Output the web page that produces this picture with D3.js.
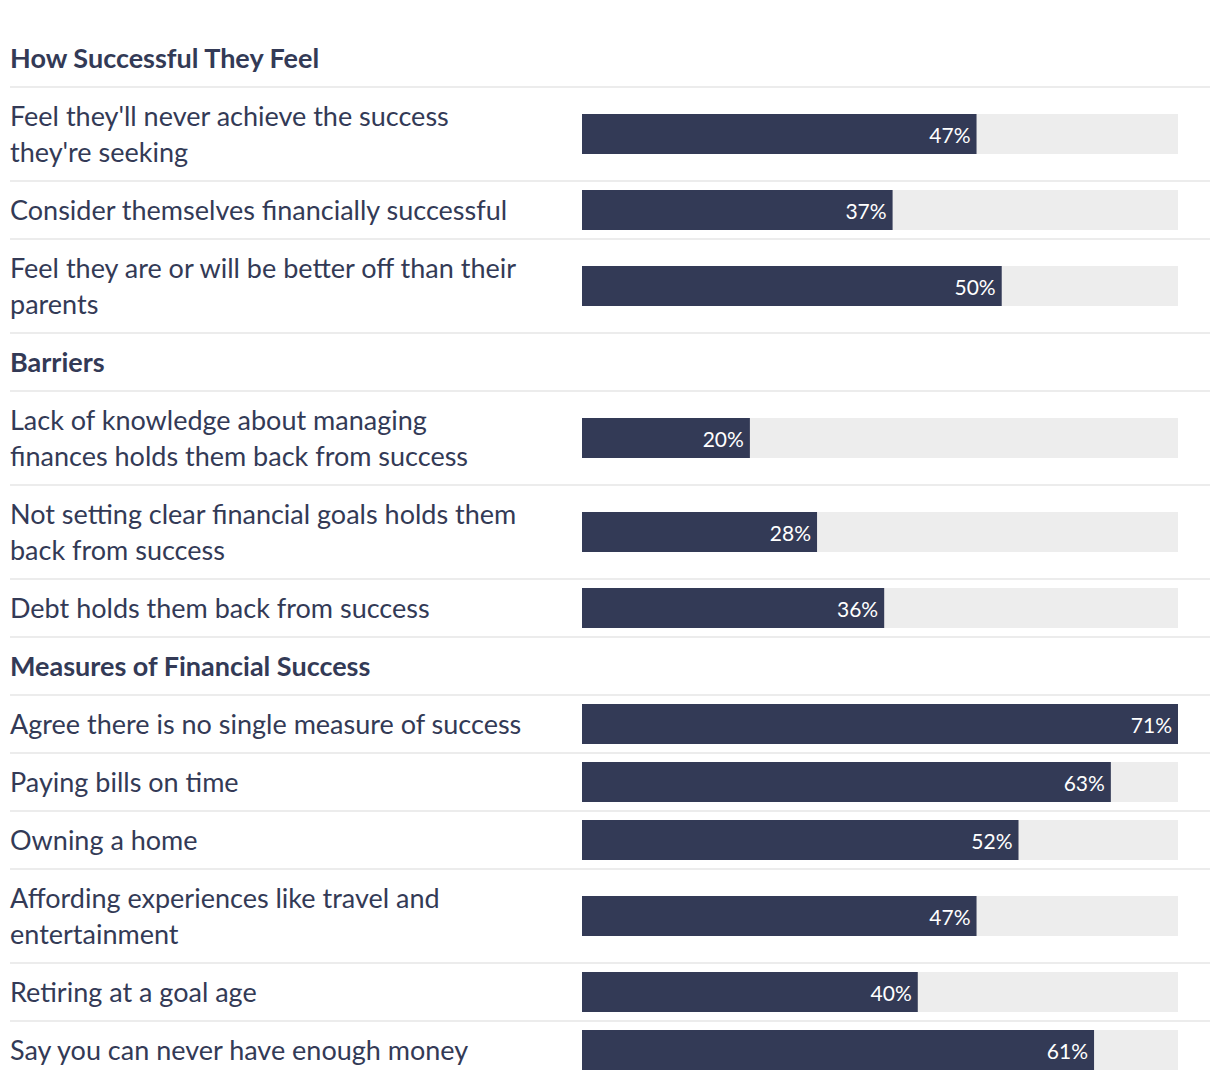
<!DOCTYPE html>
<html>
<head>
<meta charset="utf-8">
<script src="https://cdn.jsdelivr.net/npm/d3@7"></script>
<style>
    html, body { margin: 0; padding: 0; background: #fff; }
    svg { display: block; font-family: "Source Sans Pro", Lato, sans-serif; }
</style>
</head>
<body>
<svg id="bar-chart" width="1220" height="1088"></svg>
<script>
/*
 * Data
 */
var GROUPS = ['How Successful They Feel', 'Barriers', 'Measures of Financial Success'];

var GROUP_OF = [0, 0, 0, 1, 1, 1, 2, 2, 2, 2, 2, 2];

var LABELS = [
    "Feel they'll never achieve the success\nthey're seeking",
    'Consider themselves financially successful',
    'Feel they are or will be better off than their\nparents',
    'Lack of knowledge about managing\nfinances holds them back from success',
    'Not setting clear financial goals holds them\nback from success',
    'Debt holds them back from success',
    'Agree there is no single measure of success',
    'Paying bills on time',
    'Owning a home',
    'Affording experiences like travel and\nentertainment',
    'Retiring at a goal age',
    'Say you can never have enough money'
];

var VALUES = [47, 37, 50, 20, 28, 36, 71, 63, 52, 47, 40, 61];

/*
 * Style
 */
var INK = '#333a56',
    TRACK = '#ededed',
    RULE = '#ececec',
    TOP = 29,
    HEADER_H = 58,
    ROW_H = 58,
    LINE_H = 36,
    BAR_H = 40,
    LEFT = 10,
    RIGHT = 1210,
    BAR_X0 = 582,
    BAR_X1 = 1178;

function ID(id) { return '#' + id; }

/*
 * Build rows: a header row at the start of each group, then the items
 */
function buildRows() {
    var rows = [], y = TOP, last = -1;
    LABELS.forEach(function (label, i) {
        if (GROUP_OF[i] !== last) {
            last = GROUP_OF[i];
            rows.push({ type: 'header', text: GROUPS[last], y: y, h: HEADER_H });
            y += HEADER_H;
        }
        var lines = label.split('\n');
        var h = ROW_H + (lines.length - 1) * LINE_H;
        rows.push({ type: 'item', lines: lines, value: VALUES[i], y: y, h: h });
        y += h;
    });
    return rows;
}

(function () {
    var svg = d3.select(ID('bar-chart'));
    var rows = buildRows();

    var x = d3.scaleLinear()
        .domain([0, d3.max(VALUES)])
        .range([BAR_X0, BAR_X1]);

    var g = svg.selectAll('g.row')
        .data(rows)
        .enter()
        .append('g')
        .attr('class', 'row')
        .attr('transform', function (d) { return 'translate(0,' + d.y + ')'; });

    // divider under every row except the last one
    g.filter(function (d, i) { return i < rows.length - 1; })
        .append('rect')
        .attr('x', LEFT)
        .attr('y', function (d) { return d.h - 1; })
        .attr('width', RIGHT - LEFT)
        .attr('height', 2)
        .attr('fill', RULE);

    // group headers
    g.filter(function (d) { return d.type === 'header'; })
        .append('text')
        .attr('x', LEFT)
        .attr('y', function (d) { return d.h / 2 + 1; })
        .attr('dy', '0.35em')
        .attr('fill', INK)
        .attr('font-size', 27)
        .attr('font-weight', 700)
        .text(function (d) { return d.text; });

    var items = g.filter(function (d) { return d.type === 'item'; });

    // labels
    items.append('text')
        .attr('fill', INK)
        .attr('font-size', 27)
        .selectAll('tspan')
        .data(function (d) {
            return d.lines.map(function (t, k) {
                return { t: t, y: d.h / 2 + 1 + (k - (d.lines.length - 1) / 2) * LINE_H };
            });
        })
        .enter()
        .append('tspan')
        .attr('x', LEFT)
        .attr('y', function (d) { return d.y; })
        .attr('dy', '0.35em')
        .text(function (d) { return d.t; });

    // background tracks
    items.append('rect')
        .attr('x', x(0))
        .attr('y', function (d) { return d.h / 2 - BAR_H / 2; })
        .attr('width', x(d3.max(VALUES)) - x(0))
        .attr('height', BAR_H)
        .attr('fill', TRACK);

    // value bars
    items.append('rect')
        .attr('x', x(0))
        .attr('y', function (d) { return d.h / 2 - BAR_H / 2; })
        .attr('width', function (d) { return x(d.value) - x(0); })
        .attr('height', BAR_H)
        .attr('fill', INK);

    // value labels
    items.append('text')
        .attr('x', function (d) { return x(d.value) - 6; })
        .attr('y', function (d) { return d.h / 2 + 2; })
        .attr('dy', '0.35em')
        .attr('text-anchor', 'end')
        .attr('fill', '#fff')
        .attr('font-size', 21)
        .text(function (d) { return d.value + '%'; });
})();
</script>
</body>
</html>
